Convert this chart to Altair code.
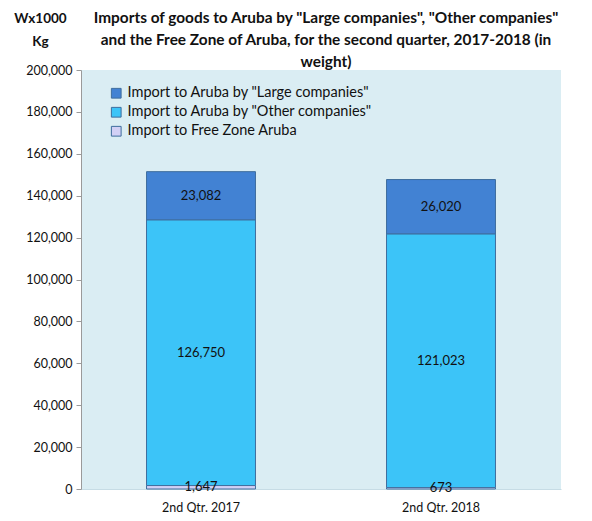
import altair as alt
import pandas as pd

quarters = ["2nd Qtr. 2017", "2nd Qtr. 2018"]
series = [
    'Import to Aruba by "Large companies"',
    'Import to Aruba by "Other companies"',
    "Import to Free Zone Aruba",
]
large = [23082, 26020]
other = [126750, 121023]
freezone = [1647, 673]
colors = ["#4282D3", "#3CC4F8", "#D2D0F5"]
stack_order = [2, 1, 0]

rows = []
for i, q in enumerate(quarters):
    for s, vals, o in zip(series, [large, other, freezone], stack_order):
        rows.append({"quarter": q, "series": s, "value": vals[i], "ord": o})
df = pd.DataFrame(rows)

FONT = "Lato"

base = alt.Chart(df).transform_stack(
    stack="value", groupby=["quarter"], as_=["v0", "v1"],
    sort=[alt.SortField("ord", order="ascending")],
).transform_calculate(mid="(datum.v0 + datum.v1) / 2")

x_enc = alt.X(
    "quarter:N", sort=quarters, title=None,
    scale=alt.Scale(paddingInner=0.546, paddingOuter=0.273),
    axis=alt.Axis(labelAngle=0, ticks=False, labelPadding=12, labelFontSize=12.5,
                  labelColor="#111111", labelFont=FONT, domainColor="#C6DCE5"),
)

bars = base.mark_bar(stroke="#3F6E9E", strokeWidth=1).encode(
    x=x_enc,
    y=alt.Y(
        "v0:Q", title=["Wx1000", "Kg"],
        scale=alt.Scale(domain=[0, 200000], nice=False),
        axis=alt.Axis(values=list(range(0, 200001, 20000)), format=",.0f", grid=False,
                      tickSize=5, tickColor="#9A9A9A", domainColor="#9A9A9A",
                      labelFontSize=12.5, labelColor="#111111", labelFont=FONT,
                      labelPadding=4,
                      titleAngle=0, titleX=-41, titleY=-48, titleAlign="center",
                      titleBaseline="alphabetic", titleFont=FONT, titleFontSize=13.5,
                      titleFontWeight="bold", titleColor="#111111", titleLineHeight=23),
    ),
    y2="v1:Q",
    color=alt.Color(
        "series:N",
        scale=alt.Scale(domain=series, range=colors),
        legend=alt.Legend(
            title=None, orient="none", legendX=28, legendY=16,
            symbolType="square", symbolSize=95, symbolStrokeColor="#3F6E9E",
            symbolStrokeWidth=1, labelFontSize=14.5, labelFont=FONT,
            labelColor="#111111", rowPadding=3, labelOffset=4, labelLimit=400,
        ),
    ),
)

labels = base.mark_text(fontSize=13, font=FONT, color="#111111", baseline="middle").encode(
    x=alt.X("quarter:N", sort=quarters),
    y=alt.Y("mid:Q"),
    text=alt.Text("value:Q", format=","),
)

chart = (
    alt.layer(bars, labels)
    .properties(
        width=480, height=419,
        padding={"left": 73, "top": 62, "right": 10, "bottom": 24},
        autosize=alt.AutoSizeParams(type="none"),
        title=alt.TitleParams(
            [
                'Imports of goods to Aruba by "Large companies", "Other companies"',
                'and the Free Zone of Aruba, for the second quarter, 2017-2018 (in',
                "weight)",
            ],
            font=FONT, fontSize=15.4, fontWeight="bold", color="#111111",
            lineHeight=22, anchor="middle", offset=2, dx=5, dy=61,
        ),
    )
    .configure_view(fill="#DAEDF3", stroke=None)
)

chart.save("out.html", embed_options={"renderer": "svg", "actions": False})
